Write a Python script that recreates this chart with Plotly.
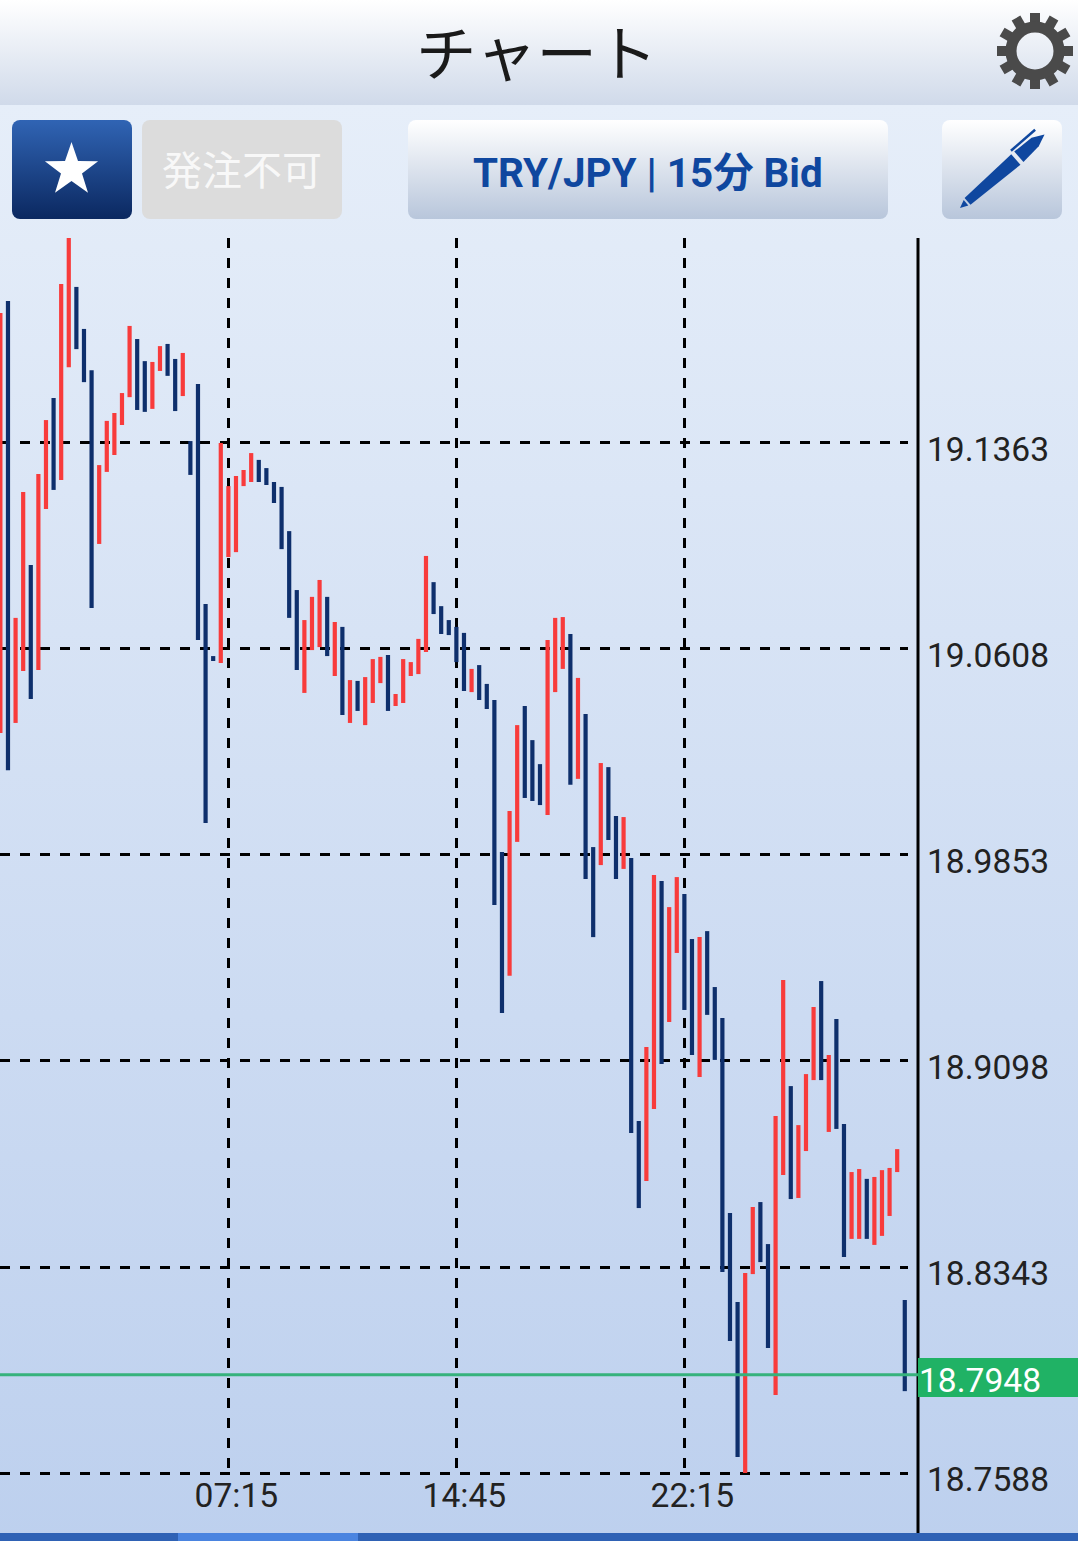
import base64, math
import plotly.graph_objects as go

# ---- data ----
highs = [19.1839,19.1883,19.0722,19.1183,19.0916,19.1249,19.1447,19.1528,19.1946,19.2118,
         19.1935,19.1781,19.1630,19.1282,19.1444,19.1473,19.1546,19.1792,19.1744,19.1663,
         19.1660,19.1718,19.1726,19.1671,19.1693,19.1370,19.1579,19.0773,19.0582,19.1363,
         19.1205,19.1242,19.1264,19.1326,19.1301,19.1271,19.1220,19.1202,19.1040,19.0824,
         19.0714,19.0799,19.0861,19.0799,19.0707,19.0689,19.0494,19.0491,19.0505,19.0571,
         19.0579,19.0586,19.0443,19.0571,19.0560,19.0645,19.0949,19.0853,19.0765,19.0714,
         19.0689,19.0667,19.0535,19.0549,19.0480,19.0421,18.9864,19.0014,19.0329,19.0399,
         19.0274,19.0186,19.0641,19.0722,19.0725,19.0663,19.0502,19.0370,18.9882,19.0190,
         19.0175,18.9996,18.9992,18.9842,18.8878,18.9149,18.9780,18.9758,18.9662,18.9772,
         18.9710,18.9545,18.9552,18.9574,18.9369,18.9256,18.8541,18.8215,18.8321,18.8563,
         18.8581,18.8427,18.8896,18.9395,18.9006,18.8863,18.9050,18.9296,18.9391,18.9120,
         18.9252,18.8867,18.8691,18.8702,18.8666,18.8673,18.8698,18.8706,18.8775,18.8222]
lows = [19.0300,19.0164,19.0337,19.0527,19.0425,19.0531,19.1121,19.1191,19.1227,19.1641,
        19.1707,19.1586,19.0758,19.0993,19.1257,19.1319,19.1429,19.1531,19.1484,19.1477,
        19.1488,19.1627,19.1609,19.1480,19.1535,19.1246,19.0641,18.9970,19.0564,19.0557,
        19.0945,19.0963,19.1205,19.1220,19.1220,19.1209,19.1143,19.0974,19.0722,19.0531,
        19.0447,19.0604,19.0615,19.0582,19.0509,19.0366,19.0337,19.0381,19.0329,19.0410,
        19.0483,19.0381,19.0399,19.0410,19.0509,19.0516,19.0597,19.0736,19.0663,19.0659,
        19.0560,19.0454,19.0450,19.0421,19.0388,18.9670,18.9274,18.9410,18.9901,19.0062,
        19.0051,19.0036,19.0000,19.0450,19.0535,19.0110,19.0132,18.9765,18.9552,18.9816,
        18.9908,18.9765,18.9802,18.8834,18.8559,18.8658,18.8922,18.9087,18.9241,18.9494,
        18.9285,18.9120,18.9039,18.9267,18.9102,18.8325,18.8072,18.7647,18.7588,18.8317,
        18.8361,18.8046,18.7874,18.8680,18.8592,18.8596,18.8768,18.9028,18.9028,18.8838,
        18.8849,18.8380,18.8446,18.8446,18.8446,18.8424,18.8457,18.8530,18.8691,18.7888]
rising = [0,2,3,5,6,8,9,13,14,15,16,17,20,21,24,29,30,31,32,33,40,41,42,44,46,48,49,50,
          52,53,54,55,56,62,67,68,72,73,74,76,79,82,85,86,88,89,92,98,99,102,103,105,106,
          107,109,112,113,115,116,117,118]
price_ticks = [18.7588, 18.8343, 18.9098, 18.9853, 19.0608, 19.1363]
price_labels = ["18.7588", "18.8343", "18.9098", "18.9853", "19.0608", "19.1363"]
time_ticks = [30, 60, 90]
time_labels = ["07:15", "14:45", "22:15"]
current_price = 18.7948

# ---- page geometry ----
W, H = 1078, 1541
PLOT_RIGHT, AXIS_X, PLOT_TOP, PLOT_BOTTOM, AXIS_BOTTOM = 908, 918, 238, 1476, 1533
PX_PER_BAR, PRICE_PER_PX = 7.6, 0.0003665
px = lambda v: v / W
py = lambda v: 1 - v / H

# ---- app chrome as a background picture ----
star = " ".join(
    f"{71.5 + (28 if k % 2 == 0 else 11) * math.sin(k * math.pi / 5):.1f},"
    f"{170 - (28 if k % 2 == 0 else 11) * math.cos(k * math.pi / 5):.1f}" for k in range(10))
teeth = "".join(
    f'<rect x="1030" y="13" width="10" height="14" transform="rotate({k * 30} 1035 51)"/>'
    for k in range(12))
svg = f'''<svg xmlns="http://www.w3.org/2000/svg" width="{W}" height="{H}" viewBox="0 0 {W} {H}">
<defs>
<linearGradient id="bg" x1="0" y1="0" x2="0" y2="1"><stop offset="0" stop-color="#e6eef9"/><stop offset="1" stop-color="#bdd0ee"/></linearGradient>
<linearGradient id="head" x1="0" y1="0" x2="0" y2="1"><stop offset="0" stop-color="#ffffff"/><stop offset="1" stop-color="#d0daea"/></linearGradient>
<linearGradient id="btn" x1="0" y1="0" x2="0" y2="1"><stop offset="0" stop-color="#ffffff"/><stop offset="1" stop-color="#b8c6db"/></linearGradient>
<linearGradient id="navy" x1="0" y1="0" x2="0" y2="1"><stop offset="0" stop-color="#3064b4"/><stop offset="1" stop-color="#0b2860"/></linearGradient>
</defs>
<rect x="0" y="105" width="{W}" height="{H-105}" fill="url(#bg)"/>
<rect x="0" y="0" width="{W}" height="105" fill="url(#head)"/>
<rect x="12" y="120" width="120" height="99" rx="8" fill="url(#navy)"/>
<polygon points="{star}" fill="#ffffff"/>
<rect x="142" y="120" width="200" height="99" rx="8" fill="#dcdcdc"/>
<rect x="408" y="120" width="480" height="99" rx="8" fill="url(#btn)"/>
<rect x="942" y="120" width="120" height="99" rx="8" fill="url(#btn)"/>
<g fill="#4a4a4a">{teeth}</g>
<circle cx="1035" cy="51" r="24" fill="none" stroke="#4a4a4a" stroke-width="11"/>
<g transform="translate(960 208) rotate(-41)" fill="#0f479f">
<polygon points="0,0 8,-3.5 8,3.5"/>
<polygon points="10,-4.5 74,-7 74,7 10,4.5"/>
<polygon points="78,-7 100,-6 112,0 100,5 78,7"/>
<rect x="76" y="-11" width="32" height="2.5"/>
</g>
<rect x="0" y="1533" width="{W}" height="8" fill="#2f62b5"/>
<rect x="178" y="1533" width="180" height="8" fill="#4a84e0"/>
</svg>'''
chrome = "data:image/svg+xml;base64," + base64.b64encode(svg.encode()).decode()

# ---- traces ----
def bars(indices, color):
    return go.Bar(x=indices, base=[lows[i] for i in indices],
                  y=[highs[i] - lows[i] for i in indices],
                  width=4.2 / PX_PER_BAR, marker=dict(color=color, line=dict(width=0)),
                  hoverinfo="skip", showlegend=False)

all_idx = list(range(len(highs)))
up = rising
down = [i for i in all_idx if i not in set(rising)]
fig = go.Figure([bars(up, "#f83b3b"), bars(down, "#0e2f6c")])

TICK_FONT = dict(family="Roboto, sans-serif", size=33.6, color="#222222")
grid = dict(showgrid=True, gridcolor="#000000", gridwidth=3, griddash="10px,10px", automargin=False,
            zeroline=False, showline=False, ticks="", tickfont=TICK_FONT)

x_low = -0.05
y_top = price_ticks[0] + (1473 - PLOT_TOP) * PRICE_PER_PX
y_bot = price_ticks[0] - (PLOT_BOTTOM - 1473) * PRICE_PER_PX

fig.update_layout(
    width=W, height=H, margin=dict(l=0, r=0, t=0, b=0), autosize=False,
    paper_bgcolor="rgba(0,0,0,0)", plot_bgcolor="rgba(0,0,0,0)", barmode="overlay",
    xaxis=dict(domain=[0, px(PLOT_RIGHT)], range=[x_low, x_low + PLOT_RIGHT / PX_PER_BAR],
               tickmode="array", tickvals=time_ticks, ticktext=time_labels,
               ticklabelshift=8, ticklabelstandoff=-4, **grid),
    yaxis=dict(domain=[py(PLOT_BOTTOM), py(PLOT_TOP)], range=[y_bot, y_top], side="right",
               tickmode="array", tickvals=price_ticks, ticktext=price_labels,
               ticklabelshift=6, ticklabelstandoff=18, **grid),
    images=[dict(source=chrome, xref="paper", yref="paper", x=0, y=1, sizex=1, sizey=1,
                 xanchor="left", yanchor="top", sizing="stretch", layer="below")],
    shapes=[
        dict(type="line", xref="paper", yref="paper", x0=px(AXIS_X), x1=px(AXIS_X),
             y0=py(PLOT_TOP), y1=py(AXIS_BOTTOM), line=dict(color="#000000", width=3)),
        dict(type="line", xref="paper", yref="y", x0=0, x1=px(AXIS_X), y0=current_price,
             y1=current_price, line=dict(color="#36b27c", width=3)),
        dict(type="rect", xref="paper", yref="paper", x0=px(AXIS_X), x1=1, y0=py(1397), y1=py(1358),
             fillcolor="#20b265", line=dict(width=0)),
    ],
    annotations=[
        dict(text=f"{current_price:.4f}", xref="paper", yref="y", x=px(AXIS_X - 1), y=current_price,
             xanchor="left", yanchor="middle", yshift=-6, showarrow=False,
             font=dict(family="Roboto, sans-serif", size=33.6, color="#ffffff")),
        dict(text="チャート", xref="paper", yref="paper", x=px(536), y=py(50), xanchor="center",
             yanchor="middle", showarrow=False,
             font=dict(family="Noto Sans CJK JP", size=60.5, color="#1a1a1a")),
        dict(text="発注不可", xref="paper", yref="paper", x=px(241.5), y=py(168), xanchor="center",
             yanchor="middle", showarrow=False,
             font=dict(family="Noto Sans CJK JP", size=40, color="#f8f8f8")),
        dict(text="<b>TRY/JPY | 15分 Bid</b>", xref="paper", yref="paper", x=px(648), y=py(173),
             xanchor="center", yanchor="middle", showarrow=False,
             font=dict(family="Roboto, Noto Sans CJK JP", size=40.4, color="#0f479f")),
    ],
)

fig.write_html("out.html", config=dict(displayModeBar=False),
               post_script="document.body.style.margin='0';document.body.style.overflow='hidden';")
